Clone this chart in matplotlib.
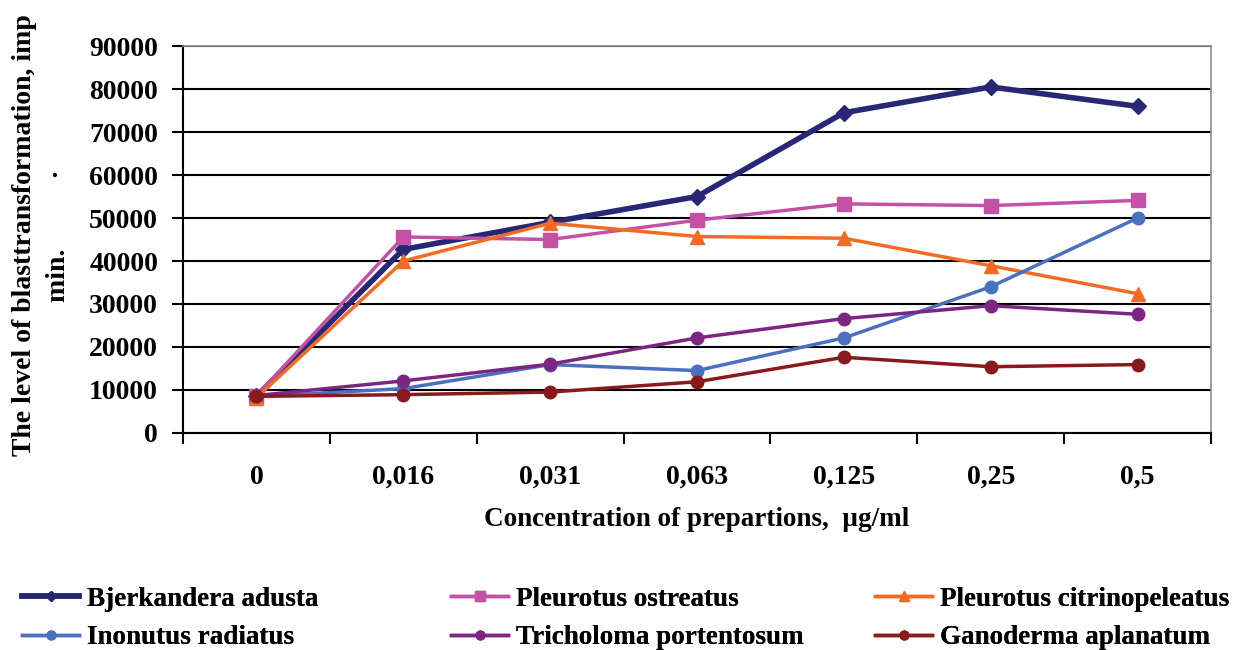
import matplotlib
matplotlib.use('Agg')
from matplotlib import pyplot as plt
from matplotlib.ticker import FixedLocator, NullFormatter

categories = ['0', '0,016', '0,031', '0,063', '0,125', '0,25', '0,5']
series_names = ['Bjerkandera adusta', 'Pleurotus ostreatus', 'Pleurotus citrinopeleatus',
                'Inonutus radiatus', 'Tricholoma portentosum', 'Ganoderma aplanatum']
bjerkandera = [8500, 42700, 49000, 55000, 74500, 80500, 76000]
pleurotus_ostreatus = [8600, 45600, 45000, 49500, 53300, 52900, 54100]
pleurotus_citrino = [8200, 40000, 48800, 45700, 45300, 38900, 32400]
inonutus = [8500, 10300, 15900, 14500, 22100, 34000, 50000]
tricholoma = [8700, 12100, 16000, 22100, 26600, 29600, 27600]
ganoderma = [8500, 8900, 9500, 11900, 17600, 15400, 15900]
yticks = [0, 10000, 20000, 30000, 40000, 50000, 60000, 70000, 80000, 90000]

series = [bjerkandera, pleurotus_ostreatus, pleurotus_citrino, inonutus, tricholoma, ganoderma]
colors = ['#272776', '#C451A6', '#F36B22', '#4A70C0', '#7B2682', '#891A1C']
markers = ['D', 's', '^', 'o', 'o', 'o']
msizes = [8, 10, 10, 9, 9, 9]
widths = [4, 2.5, 2.5, 2.5, 2.5, 2.5]

plt.rcParams['font.family'] = ['Liberation Serif', 'DejaVu Serif']
plt.rcParams['font.weight'] = 'bold'

fig = plt.figure(figsize=(12.4, 6.5), dpi=100)
ax = fig.add_axes([0.1476, 0.334, 0.829, 0.595])

x = list(range(len(categories)))
lines = []
for name, vals, c, m, ms, lw in zip(series_names, series, colors, markers, msizes, widths):
    ln, = ax.plot(x, vals, color=c, marker=m, markersize=ms, linewidth=lw, label=name,
                  markeredgecolor=c)
    lines.append(ln)

ax.set_xlim(-0.5, len(categories) - 0.5)
ax.set_ylim(0, 90000)
ax.set_yticks(yticks)
ax.set_yticklabels([str(v) for v in yticks], fontsize=20, fontweight='bold')
ax.set_xticks(x)
ax.set_xticklabels(categories, fontsize=20, fontweight='bold')
ax.xaxis.set_minor_locator(FixedLocator([i - 0.5 for i in range(len(categories) + 1)]))
ax.xaxis.set_minor_formatter(NullFormatter())
ax.tick_params(axis='x', which='major', length=0, pad=23)
ax.tick_params(axis='x', which='minor', length=8, width=1.5, direction='out')
ax.tick_params(axis='y', length=8, width=1.5, direction='out', pad=10)

ax.grid(axis='y', color='black', linewidth=1.5)
ax.set_axisbelow(True)
for s in ['left', 'bottom']:
    ax.spines[s].set_linewidth(1.5)
    ax.spines[s].set_color('black')
for s in ['top', 'right']:
    ax.spines[s].set_linewidth(1.2)
    ax.spines[s].set_color('#8c8c8c')

ax.set_xlabel('Concentration of prepartions,  \u00b5g/ml', fontsize=19.5, fontweight='bold', labelpad=12)
fig.text(0.020, 0.638, 'The level of blasttransformation, imp', rotation=90,
         fontsize=20, fontweight='bold', ha='center', va='center')
fig.text(0.047, 0.638, 'min.          \u00b7', rotation=90,
         fontsize=20, fontweight='bold', ha='center', va='center')

# one legend per column, rows: (0,1,2) and (3,4,5)
col_x = [0.018, 0.364, 0.706]
for k in range(3):
    leg = fig.legend([lines[k], lines[k + 3]], [series_names[k], series_names[k + 3]],
                     loc='upper left', bbox_to_anchor=(col_x[k], 0.097), frameon=False,
                     prop={'family': 'Liberation Serif', 'weight': 'bold', 'size': 19.5},
                     handlelength=2.1, handletextpad=0.3, labelspacing=0.5,
                     borderaxespad=0, borderpad=0, markerscale=0.7)
    fig.add_artist(leg)

fig.savefig('out.png', dpi=100)
